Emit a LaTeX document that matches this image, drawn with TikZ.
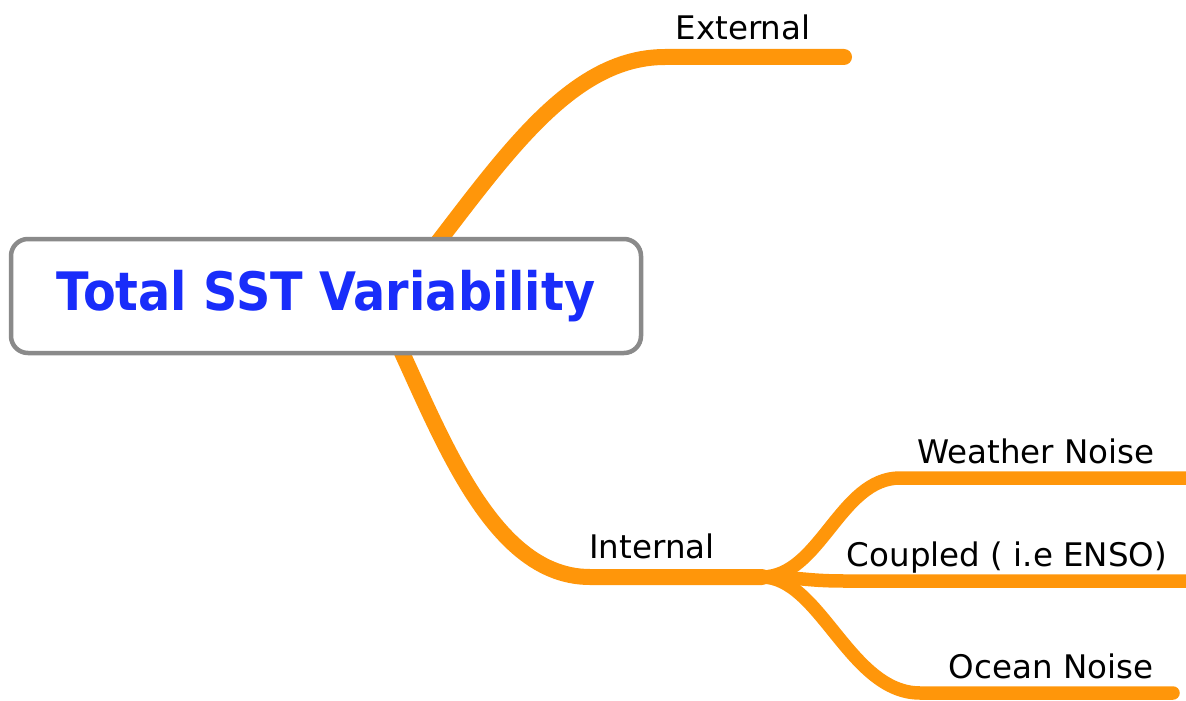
\documentclass[tikz,border=0pt]{standalone}
\usepackage{fontspec}
\setmainfont{DejaVu Sans}
\definecolor{branch}{RGB}{255,150,10}
\definecolor{ttlblue}{RGB}{25,45,250}
\definecolor{boxgray}{RGB}{138,138,138}
\begin{document}
\begin{tikzpicture}[x=1pt,y=-1pt,
  br/.style={draw=branch,line width=16pt,line cap=round},
  subbr/.style={draw=branch,line width=13.5pt,line cap=round},
  lbl/.style={font=\fontsize{32.5}{36}\selectfont,anchor=base,inner sep=0pt,text=black},
  rootbox/.style={draw=boxgray,line width=4.5pt,rounded corners=17pt,fill=white,
    minimum width=630pt,minimum height=114pt,inner sep=0pt,text=ttlblue,
    font=\bfseries\fontsize{53}{58}\selectfont}
]
\useasboundingbox (0,0) rectangle (1186,701);
% branch anchor coordinates
\coordinate (s1) at (395,297);
\coordinate (s2) at (375,297);
\coordinate (extA) at (665,57);
\coordinate (extE) at (844,57);
\coordinate (intA) at (590,577);
\coordinate (fork) at (762,577);
\coordinate (wA) at (900,478);
\coordinate (wE) at (1200,478);
\coordinate (cA) at (845,581);
\coordinate (cE) at (1200,581);
\coordinate (oA) at (920,693);
\coordinate (oE) at (1173,693);
% branches
\draw[br] (s1) .. controls (490,180) and (560,57) .. (extA) -- (extE);
\draw[br] (s2) .. controls (430,400) and (480,577) .. (intA) -- (fork);
\draw[subbr] (fork) .. controls (820,577) and (840,478) .. (wA) -- (wE);
\draw[subbr] (fork) .. controls (800,577) and (805,581) .. (cA) -- (cE);
\draw[subbr] (fork) .. controls (820,577) and (850,693) .. (oA) -- (oE);
% root
\node[rootbox] (root) at (326,296) {\raisebox{-2pt}{\scalebox{0.9}[1]{Total SST Variability}}};
% labels
\node[lbl] (lext) at (743,40) {External};
\node[lbl] (lint) at (652,558) {Internal};
\node[lbl] (lw) at (1036,463) {Weather Noise};
\node[lbl] (lc) at (1007,566) {Coupled ( i.e ENSO)};
\node[lbl] (lo) at (1051,678) {Ocean Noise};
\end{tikzpicture}
\end{document}
